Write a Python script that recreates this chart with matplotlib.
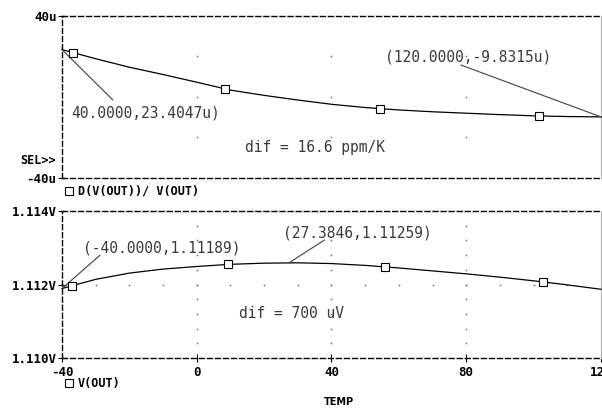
import matplotlib
matplotlib.use("Agg")
import matplotlib.pyplot as plt
import numpy as np
from matplotlib.lines import Line2D

# --- data ---
TEMP = [-40, -30, -20, -10, 0, 10, 20, 30, 40, 50, 60, 70, 80, 90, 100, 110, 120]
# D(V(OUT))/V(OUT), in micro-units
DV_REL = [23.4047, 18.9, 14.7, 11.1, 7.3, 3.4, 0.8, -1.5, -3.6, -5.2, -6.4,
          -7.3, -8.0, -8.7, -9.3, -9.65, -9.8315]
# V(OUT), volts
VOUT = [1.11189, 1.11214, 1.11231, 1.11242, 1.11249, 1.11255, 1.11258, 1.11259,
        1.11257, 1.11252, 1.11245, 1.11237, 1.11229, 1.11220, 1.11210, 1.11199, 1.11187]
MARK_T_TOP = [-36.8, 8.5, 54.4, 101.5]
MARK_T_BOT = [-36.9, 9.3, 56.0, 102.9]

X_TICKS = [-40, 0, 40, 80, 120]
TOP_YTICKS = [-40, 40]
TOP_YLABELS = ["-40u", "40u"]
BOT_YTICKS = [1.110, 1.112, 1.114]
BOT_YLABELS = ["1.110V", "1.112V", "1.114V"]

MONO = "DejaVu Sans Mono"
DASH = (0, (3.6, 2.2))
TXT_COLOR = "#3a3a3a"

fig = plt.figure(figsize=(6.02, 4.09), dpi=100)
ax1 = fig.add_axes([0.103, 0.5648, 0.8953, 0.3961])
ax2 = fig.add_axes([0.103, 0.1247, 0.8953, 0.3594])


def style_axes(ax):
    for side in ["top", "bottom", "left"]:
        ax.spines[side].set_linestyle(DASH)
        ax.spines[side].set_linewidth(1.0)
    ax.spines["right"].set_color("#b0b0b0")
    ax.spines["right"].set_linewidth(0.8)
    ax.set_xlim(-40, 120)
    ax.tick_params(axis="y", direction="inout", length=6, width=0.8, pad=1)
    ax.tick_params(axis="x", direction="inout", length=6, width=0.8, pad=3)
    for lab in ax.get_yticklabels() + ax.get_xticklabels():
        lab.set_fontfamily(MONO)
        lab.set_fontweight("bold")
        lab.set_fontsize(9)


# ---------------- top panel ----------------
ax1.set_ylim(-40, 40)
ax1.set_yticks(TOP_YTICKS)
ax1.set_yticklabels(TOP_YLABELS)
ax1.set_xticks([])
style_axes(ax1)

gx, gy = np.meshgrid([0, 40, 80], np.arange(-20, 21, 20))
ax1.plot(gx.ravel(), gy.ravel(), "s", ms=1.1, color="#707070", mew=0, zorder=1)

ax1.plot(TEMP, DV_REL, color="black", lw=0.9, zorder=3, clip_on=False)
ax1.plot(MARK_T_TOP, np.interp(MARK_T_TOP, TEMP, DV_REL), "s", ms=5.5,
         mfc="white", mec="black", mew=0.8, zorder=4)

ax1.annotate("", xy=(TEMP[0], DV_REL[0]), xytext=(-24.9, -1.5),
             arrowprops=dict(arrowstyle="-", color="#404040", lw=0.8,
                             shrinkA=0, shrinkB=0))
ax1.text(-37.3, -7.9, "40.0000,23.4047u)", family=MONO, fontsize=10.5,
         color=TXT_COLOR, va="center", ha="left")
ax1.annotate("", xy=(TEMP[-1], DV_REL[-1]), xytext=(78.4, 15.8),
             arrowprops=dict(arrowstyle="-", color="#404040", lw=0.8,
                             shrinkA=0, shrinkB=0))
ax1.text(56.0, 19.75, "(120.0000,-9.8315u)", family=MONO, fontsize=10.5,
         color=TXT_COLOR, va="center", ha="left")
ax1.text(14.2, -24.7, "dif = 16.6 ppm/K", family=MONO, fontsize=10.5,
         color=TXT_COLOR, va="center", ha="left")

# ---------------- bottom panel ----------------
ax2.set_ylim(1.110, 1.114)
ax2.set_yticks(BOT_YTICKS)
ax2.set_yticklabels(BOT_YLABELS)
ax2.set_xticks(X_TICKS)
ax2.set_xticklabels([f"{t:d}" for t in X_TICKS])
style_axes(ax2)

vx, vy = np.meshgrid([0, 40, 80], np.arange(1.1104, 1.11361, 0.0004))
ax2.plot(vx.ravel(), vy.ravel(), "s", ms=1.1, color="#707070", mew=0, zorder=1)
hx = np.arange(-30, 120, 10)
ax2.plot(hx, np.full(hx.shape, 1.112), "s", ms=1.1, color="#707070", mew=0, zorder=1)

ax2.plot(TEMP, VOUT, color="black", lw=0.9, zorder=3, clip_on=False)
ax2.plot(MARK_T_BOT, np.interp(MARK_T_BOT, TEMP, VOUT), "s", ms=5.5,
         mfc="white", mec="black", mew=0.8, zorder=4)

ax2.annotate("", xy=(TEMP[0], VOUT[0]), xytext=(-28.7, 1.11280),
             arrowprops=dict(arrowstyle="-", color="#404040", lw=0.8,
                             shrinkA=0, shrinkB=0))
ax2.text(-33.8, 1.11299, "(-40.0000,1.11189)", family=MONO, fontsize=10.5,
         color=TXT_COLOR, va="center", ha="left")
ax2.annotate("", xy=(27.3846, 1.11259), xytext=(37.9, 1.11321),
             arrowprops=dict(arrowstyle="-", color="#404040", lw=0.8,
                             shrinkA=0, shrinkB=0))
ax2.text(25.5, 1.11340, "(27.3846,1.11259)", family=MONO, fontsize=10.5,
         color=TXT_COLOR, va="center", ha="left")
ax2.text(12.4, 1.11120, "dif = 700 uV", family=MONO, fontsize=10.5,
         color=TXT_COLOR, va="center", ha="left")

# ---------------- figure texts ----------------
fig.text(56 / 602, 1 - 161 / 409, "SEL>>", family=MONO, fontweight="bold",
         fontsize=8.5, ha="right", va="center")
for ypx, label in [(191, "D(V(OUT))/ V(OUT)"), (383, "V(OUT)")]:
    fig.add_artist(Line2D([68.5 / 602], [1 - ypx / 409], marker="s", ms=5.5,
                          mfc="white", mec="black", mew=0.8,
                          transform=fig.transFigure))
    fig.text(78 / 602, 1 - ypx / 409, label, family=MONO, fontweight="bold",
             fontsize=8.5, ha="left", va="center")
fig.text(339 / 602, 1 - 402 / 409, "TEMP", family="DejaVu Sans", fontweight="bold",
         fontsize=7, ha="center", va="center")

fig.savefig("out.png", dpi=100)
